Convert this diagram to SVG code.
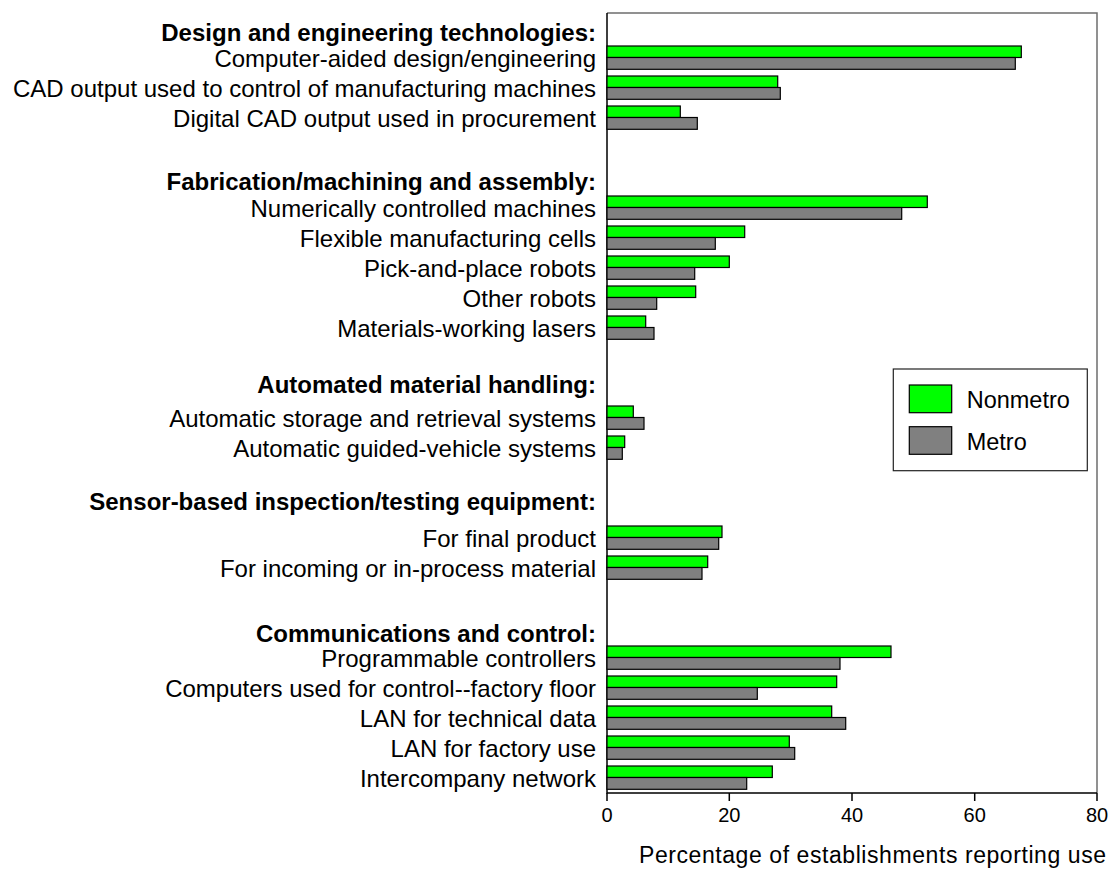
<svg xmlns="http://www.w3.org/2000/svg" width="1109" height="871" viewBox="0 0 1109 871">
<style>
text{font-family:"Liberation Sans",Arial,sans-serif;fill:#000}
.lbl{font-size:24px;text-anchor:end}
.hdr{font-size:24px;font-weight:bold;text-anchor:end}
.tick{font-size:20px;text-anchor:middle}
.leg{font-size:23.5px}
.g{fill:#00FF00;stroke:#000;stroke-width:1.2}
.m{fill:#808080;stroke:#000;stroke-width:1.2}
.ax{stroke:#000;stroke-width:1.5;fill:none}
.fr{stroke:#6e6e6e;stroke-width:1.5;fill:none}
</style>
<rect width="1109" height="871" fill="#fff"/>
<g id="frame">
<path class="fr" d="M607,13 H1097 V793"/>
<path class="ax" d="M607,13 V793 H1097"/>
<path class="ax" d="M607,793 V801 M729.3,793 V801 M852,793 V801 M974.7,793 V801 M1097,793 V801"/>
<text class="tick" x="607" y="822">0</text>
<text class="tick" x="729.3" y="822">20</text>
<text class="tick" x="852" y="822">40</text>
<text class="tick" x="974.7" y="822">60</text>
<text class="tick" x="1097" y="822">80</text>
<text x="639" y="863" font-size="23" textLength="467" lengthAdjust="spacing">Percentage of establishments reporting use</text>
</g>
<g id="headers">
<text class="hdr" x="596" y="41">Design and engineering technologies:</text>
<text class="hdr" x="596" y="190">Fabrication/machining and assembly:</text>
<text class="hdr" x="596" y="393">Automated material handling:</text>
<text class="hdr" x="596" y="510">Sensor-based inspection/testing equipment:</text>
<text class="hdr" x="596" y="642">Communications and control:</text>
</g>
<g id="row-cad"><text class="lbl" x="596" y="67">Computer-aided design/engineering</text><rect class="g" x="607" y="46" width="414.3" height="11.5"/><rect class="m" x="607" y="57.5" width="408.3" height="11.8"/></g>
<g id="row-cadcam"><text class="lbl" x="596" y="97">CAD output used to control of manufacturing machines</text><rect class="g" x="607" y="76" width="170.7" height="11.5"/><rect class="m" x="607" y="87.5" width="173.3" height="11.8"/></g>
<g id="row-digital"><text class="lbl" x="596" y="127">Digital CAD output used in procurement</text><rect class="g" x="607" y="106" width="73.3" height="11.5"/><rect class="m" x="607" y="117.5" width="90.3" height="11.8"/></g>
<g id="row-nc"><text class="lbl" x="596" y="217">Numerically controlled machines</text><rect class="g" x="607" y="196" width="320.3" height="11.5"/><rect class="m" x="607" y="207.5" width="294.7" height="11.8"/></g>
<g id="row-fmc"><text class="lbl" x="596" y="247">Flexible manufacturing cells</text><rect class="g" x="607" y="226" width="137.7" height="11.5"/><rect class="m" x="607" y="237.5" width="108.3" height="11.8"/></g>
<g id="row-pick"><text class="lbl" x="596" y="277">Pick-and-place robots</text><rect class="g" x="607" y="256" width="122.3" height="11.5"/><rect class="m" x="607" y="267.5" width="87.7" height="11.8"/></g>
<g id="row-robots"><text class="lbl" x="596" y="307">Other robots</text><rect class="g" x="607" y="286" width="88.7" height="11.5"/><rect class="m" x="607" y="297.5" width="49.7" height="11.8"/></g>
<g id="row-lasers"><text class="lbl" x="596" y="337">Materials-working lasers</text><rect class="g" x="607" y="316" width="38.7" height="11.5"/><rect class="m" x="607" y="327.5" width="47" height="11.8"/></g>
<g id="row-asrs"><text class="lbl" x="596" y="427">Automatic storage and retrieval systems</text><rect class="g" x="607" y="406" width="26.3" height="11.5"/><rect class="m" x="607" y="417.5" width="37" height="11.8"/></g>
<g id="row-agv"><text class="lbl" x="596" y="457">Automatic guided-vehicle systems</text><rect class="g" x="607" y="436" width="17.7" height="11.5"/><rect class="m" x="607" y="447.5" width="15.3" height="11.8"/></g>
<g id="row-final"><text class="lbl" x="596" y="547">For final product</text><rect class="g" x="607" y="526" width="115" height="11.5"/><rect class="m" x="607" y="537.5" width="111.7" height="11.8"/></g>
<g id="row-incoming"><text class="lbl" x="596" y="577">For incoming or in-process material</text><rect class="g" x="607" y="556" width="100.7" height="11.5"/><rect class="m" x="607" y="567.5" width="95" height="11.8"/></g>
<g id="row-plc"><text class="lbl" x="596" y="667">Programmable controllers</text><rect class="g" x="607" y="646" width="284" height="11.5"/><rect class="m" x="607" y="657.5" width="233" height="11.8"/></g>
<g id="row-computers"><text class="lbl" x="596" y="697">Computers used for control--factory floor</text><rect class="g" x="607" y="676" width="229.7" height="11.5"/><rect class="m" x="607" y="687.5" width="150.3" height="11.8"/></g>
<g id="row-lantech"><text class="lbl" x="596" y="727">LAN for technical data</text><rect class="g" x="607" y="706" width="224.7" height="11.5"/><rect class="m" x="607" y="717.5" width="238.7" height="11.8"/></g>
<g id="row-lanfac"><text class="lbl" x="596" y="757">LAN for factory use</text><rect class="g" x="607" y="736" width="182.3" height="11.5"/><rect class="m" x="607" y="747.5" width="187.7" height="11.8"/></g>
<g id="row-interco"><text class="lbl" x="596" y="787">Intercompany network</text><rect class="g" x="607" y="766" width="165.3" height="11.5"/><rect class="m" x="607" y="777.5" width="139.7" height="11.8"/></g>
<g id="legend">
<rect x="893.3" y="369" width="194" height="101.7" fill="#fff" stroke="#222" stroke-width="1.2"/>
<rect class="g" x="909.3" y="385" width="42.4" height="27.7"/>
<rect class="m" x="909.3" y="426.7" width="42.4" height="27.6"/>
<text class="leg" x="966.7" y="408">Nonmetro</text>
<text class="leg" x="966.7" y="450">Metro</text>
</g>
<g id="connectors"/>
</svg>
